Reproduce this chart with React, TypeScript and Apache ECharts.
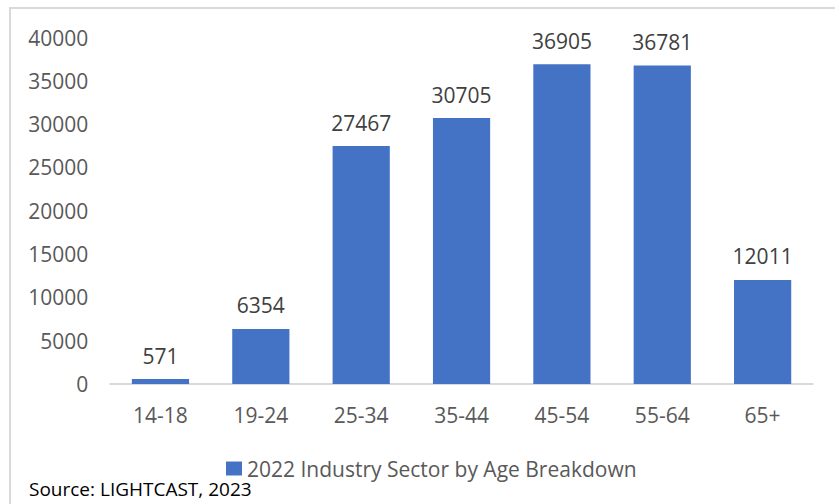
import React, { useEffect, useRef } from "react";
import * as echarts from "echarts";

const categories = ["14-18", "19-24", "25-34", "35-44", "45-54", "55-64", "65+"];
const values = [571, 6354, 27467, 30705, 36905, 36781, 12011];
const seriesName = "2022 Industry Sector by Age Breakdown";
const sourceText = "Source: LIGHTCAST, 2023";

const FONT = "'Open Sans', 'Noto Sans', sans-serif";

export default function App() {
  const ref = useRef<HTMLDivElement>(null);
  useEffect(() => {
    document.body.style.margin = "0";
    const chart = echarts.init(ref.current!, null, { renderer: "svg" });
    chart.setOption({
      animation: false,
      backgroundColor: "#ffffff",
      textStyle: { fontFamily: FONT },
      grid: { left: 110.3, right: 22.2, top: 37.5, bottom: 120, containLabel: false },
      xAxis: {
        type: "category",
        data: categories,
        axisLine: { show: true, lineStyle: { color: "#d9d9d9", width: 2 } },
        axisTick: { show: false },
        axisLabel: { color: "#595959", fontSize: 21, fontFamily: FONT, margin: 20 },
      },
      yAxis: {
        type: "value",
        min: 0,
        max: 40000,
        interval: 5000,
        axisLine: { show: false },
        axisTick: { show: false },
        splitLine: { show: false },
        axisLabel: {
          color: "#595959",
          fontSize: 21,
          fontFamily: FONT,
          margin: 22,
          formatter: (v: number) => String(v),
        },
      },
      legend: {
        data: [seriesName],
        left: 226,
        top: 458,
        padding: 0,
        itemWidth: 16,
        itemHeight: 14,
        icon: "rect",
        textStyle: { color: "#595959", fontSize: 21, fontFamily: FONT },
      },
      series: [
        {
          name: seriesName,
          type: "bar",
          data: values,
          barCategoryGap: "43%",
          itemStyle: { color: "#4472C4" },
          label: {
            show: true,
            position: "top",
            distance: 13,
            color: "#404040",
            fontSize: 21,
            fontFamily: FONT,
          },
        },
      ],
      graphic: [
        {
          type: "rect",
          shape: { x: 10, y: 8, width: 900, height: 600 },
          style: { fill: "none", stroke: "#d9d9d9", lineWidth: 2 },
          silent: true,
        },
        {
          type: "text",
          left: 29,
          top: 479,
          style: { text: sourceText, fill: "#000000", font: `19px ${FONT}` },
        },
      ],
    });
    return () => chart.dispose();
  }, []);
  return <div ref={ref} style={{ width: 835, height: 504 }} />;
}
